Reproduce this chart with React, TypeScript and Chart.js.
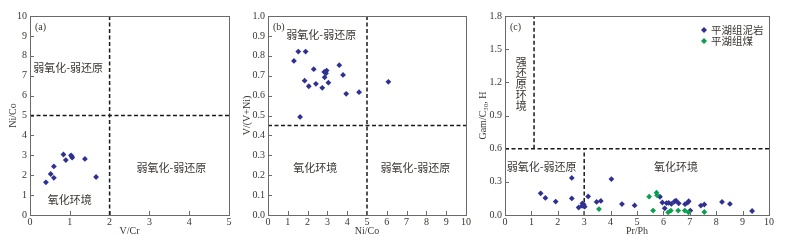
import React, { useEffect, useRef } from "react";
import { Chart, registerables } from "chart.js";
Chart.register(...registerables);

// ---------- data ----------
// Panel (a): V/Cr vs Ni/Co
const aVCr = [0.40, 0.52, 0.60, 0.60, 0.84, 0.90, 1.03, 1.05, 1.06, 1.38, 1.66];
const aNiCo = [1.64, 2.06, 2.44, 1.87, 3.04, 2.76, 3.00, 2.95, 2.88, 2.82, 1.91];
const aDivX = 2;
const aDivY = 5;

// Panel (b): Ni/Co vs V/(V+Ni)
const bNiCo = [1.31, 1.53, 1.90, 2.31, 1.85, 2.06, 2.42, 2.74, 2.84, 2.96, 2.93, 2.86, 3.05, 3.60, 3.79, 3.95, 4.60, 1.62, 6.08];
const bVVNi = [0.774, 0.821, 0.821, 0.733, 0.675, 0.647, 0.659, 0.639, 0.719, 0.726, 0.712, 0.692, 0.665, 0.753, 0.704, 0.609, 0.617, 0.493, 0.669];
const bDivX = 5;
const bDivY = 0.45;

// Panel (c): Pr/Ph vs Gam/C30H
const cMudPrPh = [1.35, 1.53, 1.92, 2.53, 2.53, 2.79, 2.93, 2.98, 2.92, 3.02, 3.15, 3.47, 3.63, 4.03, 4.43, 4.91, 5.87, 5.96, 6.05, 6.12, 6.20, 6.30, 6.42, 6.48, 6.58, 6.82, 6.92, 6.96, 7.02, 7.42, 7.55, 8.22, 8.52, 9.36];
const cMudGam = [0.196, 0.154, 0.121, 0.335, 0.150, 0.068, 0.105, 0.096, 0.082, 0.075, 0.168, 0.118, 0.127, 0.325, 0.099, 0.087, 0.165, 0.113, 0.060, 0.108, 0.110, 0.100, 0.122, 0.130, 0.106, 0.098, 0.112, 0.125, 0.040, 0.085, 0.095, 0.118, 0.100, 0.036];
const cCoalPrPh = [3.56, 5.46, 5.61, 5.74, 5.76, 6.18, 6.28, 6.56, 6.81, 6.95, 7.55];
const cCoalGam = [0.054, 0.166, 0.040, 0.202, 0.178, 0.024, 0.040, 0.040, 0.040, 0.024, 0.027];
const cDivY = 0.6;
const cDivX1 = 1.1;
const cDivX2 = 3;
const cSeriesNames = ["平湖组泥岩", "平湖组煤"];

// ---------- styles ----------
const BLUE = "#2e3192";
const GREEN = "#0a9e4e";
const TEXT = "#3a3532";
const SERIF = "'Liberation Serif', 'Times New Roman', serif";
const CJK = "'Noto Sans CJK SC', sans-serif";

const zip = (xs: number[], ys: number[]) => xs.map((x, i) => ({ x, y: ys[i] }));

const pointDs = (data: any[], color: string, order: number) => ({
  data,
  pointStyle: "rectRot",
  pointRadius: 2.9,
  backgroundColor: color,
  borderColor: color,
  borderWidth: 0,
  showLine: false,
  order,
});

const lineDs = (data: any[]) => ({
  data,
  showLine: true,
  pointRadius: 0,
  borderColor: "#1a1a1a",
  borderWidth: 1.5,
  borderDash: [4, 2.5],
  fill: false,
  order: 5,
});

const framePlugin = {
  id: "frame",
  afterDatasetsDraw(chart: any, _args: any, opts: any) {
    const { ctx, chartArea: ca, scales } = chart;
    const xs = scales.x;
    const ys = scales.y;
    ctx.save();
    // frame
    ctx.strokeStyle = "#6a6a6a";
    ctx.lineWidth = 1;
    ctx.setLineDash([]);
    ctx.strokeRect(Math.round(ca.left) + 0.5, Math.round(ca.top) + 0.5, Math.round(ca.right - ca.left), Math.round(ca.bottom - ca.top));
    // inward ticks
    ctx.beginPath();
    xs.ticks.forEach((t: any) => {
      const px = Math.round(xs.getPixelForValue(t.value)) + 0.5;
      ctx.moveTo(px, ca.bottom);
      ctx.lineTo(px, ca.bottom - 4);
    });
    ys.ticks.forEach((t: any) => {
      const py = Math.round(ys.getPixelForValue(t.value)) + 0.5;
      ctx.moveTo(ca.left, py);
      ctx.lineTo(ca.left + 4, py);
    });
    ctx.stroke();
    // panel label
    ctx.fillStyle = TEXT;
    ctx.font = `10px ${SERIF}`;
    ctx.textAlign = "left";
    ctx.textBaseline = "middle";
    ctx.fillText(opts.label, ca.left + 5, ca.top + 11);
    // annotations
    ctx.font = `11px ${CJK}`;
    ctx.textAlign = "center";
    (opts.anns || []).forEach((a: any) => {
      const px = xs.getPixelForValue(a.x);
      const py = ys.getPixelForValue(a.y);
      if (a.vertical) {
        Array.from(a.text as string).forEach((ch, i) => ctx.fillText(ch, px, py + i * 11));
      } else {
        ctx.fillText(a.text, px, py);
      }
    });
    // legend
    if (opts.legend) {
      opts.legend.forEach((l: any, i: number) => {
        const cx = ca.right - 65;
        const cy = ca.top + 14 + i * 11;
        ctx.fillStyle = l.color;
        ctx.beginPath();
        ctx.moveTo(cx, cy - 3);
        ctx.lineTo(cx + 3, cy);
        ctx.lineTo(cx, cy + 3);
        ctx.lineTo(cx - 3, cy);
        ctx.closePath();
        ctx.fill();
        ctx.fillStyle = TEXT;
        ctx.textAlign = "left";
        ctx.font = `10.5px ${CJK}`;
        ctx.fillText(l.text, cx + 7, cy);
      });
    }
    ctx.restore();
  },
};

function buildConfig(p: any) {
  return {
    type: "scatter",
    data: { datasets: p.datasets },
    options: {
      responsive: false,
      animation: false,
      devicePixelRatio: 1,
      layout: { padding: { top: 16, right: p.padRight, bottom: 0, left: 0 } },
      plugins: {
        legend: { display: false },
        tooltip: { enabled: false },
        frame: { label: p.label, anns: p.anns, legend: p.legend },
      },
      scales: {
        x: {
          type: "linear",
          min: p.xMin,
          max: p.xMax,
          ticks: { stepSize: p.xStep, color: TEXT, font: { family: SERIF, size: 10 }, padding: 1, autoSkip: false, maxRotation: 0 },
          grid: { display: false, drawTicks: false },
          border: { display: false },
          title: { display: true, text: p.xTitle, color: TEXT, font: { family: SERIF, size: 10 }, padding: { top: 0, bottom: 6 } },
          afterFit: (s: any) => { s.height = 28; },
        },
        y: {
          type: "linear",
          min: p.yMin,
          max: p.yMax,
          ticks: {
            stepSize: p.yStep,
            color: TEXT,
            font: { family: SERIF, size: 10 },
            padding: 3,
            autoSkip: false,
            callback: (v: number) => v.toFixed(p.yDec),
          },
          grid: { display: false, drawTicks: false },
          border: { display: false },
          title: { display: true, text: p.yTitle, color: TEXT, font: { family: SERIF, size: 10 }, padding: { top: p.yTitlePad, bottom: 0 } },
          afterFit: (s: any) => { s.width = p.yWidth; },
        },
      },
    },
    plugins: [framePlugin],
  } as any;
}

const panelA = buildConfig({
  xMin: 0, xMax: 5, xStep: 1, yMin: 0, yMax: 10, yStep: 1, yDec: 0,
  xTitle: "V/Cr", yTitle: "Ni/Co", padRight: 7, yWidth: 30, yTitlePad: 7, label: "(a)",
  datasets: [
    pointDs(zip(aVCr, aNiCo), BLUE, 0),
    lineDs([{ x: aDivX, y: 0 }, { x: aDivX, y: 10 }]),
    lineDs([{ x: 0, y: aDivY }, { x: 5, y: aDivY }]),
  ],
  anns: [
    { text: "弱氧化-弱还原", x: 0.96, y: 7.4 },
    { text: "弱氧化-弱还原", x: 3.55, y: 2.37 },
    { text: "氧化环境", x: 1.0, y: 0.77 },
  ],
});

const panelB = buildConfig({
  xMin: 0, xMax: 10, xStep: 1, yMin: 0, yMax: 1, yStep: 0.1, yDec: 1,
  xTitle: "Ni/Co", yTitle: "V/(V+Ni)", padRight: 6, yWidth: 32, yTitlePad: 5, label: "(b)",
  datasets: [
    pointDs(zip(bNiCo, bVVNi), BLUE, 0),
    lineDs([{ x: bDivX, y: 0 }, { x: bDivX, y: 1 }]),
    lineDs([{ x: 0, y: bDivY }, { x: 10, y: bDivY }]),
  ],
  anns: [
    { text: "弱氧化-弱还原", x: 2.69, y: 0.905 },
    { text: "氧化环境", x: 2.39, y: 0.236 },
    { text: "弱氧化-弱还原", x: 7.44, y: 0.236 },
  ],
});

const panelC = buildConfig({
  xMin: 0, xMax: 10, xStep: 1, yMin: 0, yMax: 1.8, yStep: 0.3, yDec: 1,
  xTitle: "Pr/Ph", yTitle: "Gam/C₃₀, H", padRight: 17, yWidth: 33, yTitlePad: 5, label: "(c)",
  datasets: [
    pointDs(zip(cCoalPrPh, cCoalGam), GREEN, 0),
    pointDs(zip(cMudPrPh, cMudGam), BLUE, 1),
    lineDs([{ x: 0, y: cDivY }, { x: 10, y: cDivY }]),
    lineDs([{ x: cDivX1, y: cDivY }, { x: cDivX1, y: 1.8 }]),
    lineDs([{ x: cDivX2, y: 0 }, { x: cDivX2, y: cDivY }]),
  ],
  anns: [
    { text: "强还原环境", x: 0.62, y: 1.383, vertical: true },
    { text: "弱氧化-弱还原", x: 1.39, y: 0.437 },
    { text: "氧化环境", x: 6.48, y: 0.437 },
  ],
  legend: [
    { text: cSeriesNames[0], color: BLUE },
    { text: cSeriesNames[1], color: GREEN },
  ],
});

function Panel({ config, left, width }: { config: any; left: number; width: number }) {
  const ref = useRef<HTMLCanvasElement | null>(null);
  useEffect(() => {
    if (!ref.current) return;
    const chart = new Chart(ref.current, config);
    return () => chart.destroy();
  }, [config]);
  return (
    <canvas
      ref={ref}
      width={width}
      height={243}
      style={{ position: "absolute", left, top: 0, width, height: 243 }}
    />
  );
}

export default function App() {
  return (
    <div style={{ position: "absolute", left: 0, top: 0, width: 786, height: 243, background: "#fff", overflow: "hidden" }}>
      <Panel config={panelA} left={0} width={236} />
      <Panel config={panelB} left={236} width={236} />
      <Panel config={panelC} left={472} width={314} />
    </div>
  );
}
